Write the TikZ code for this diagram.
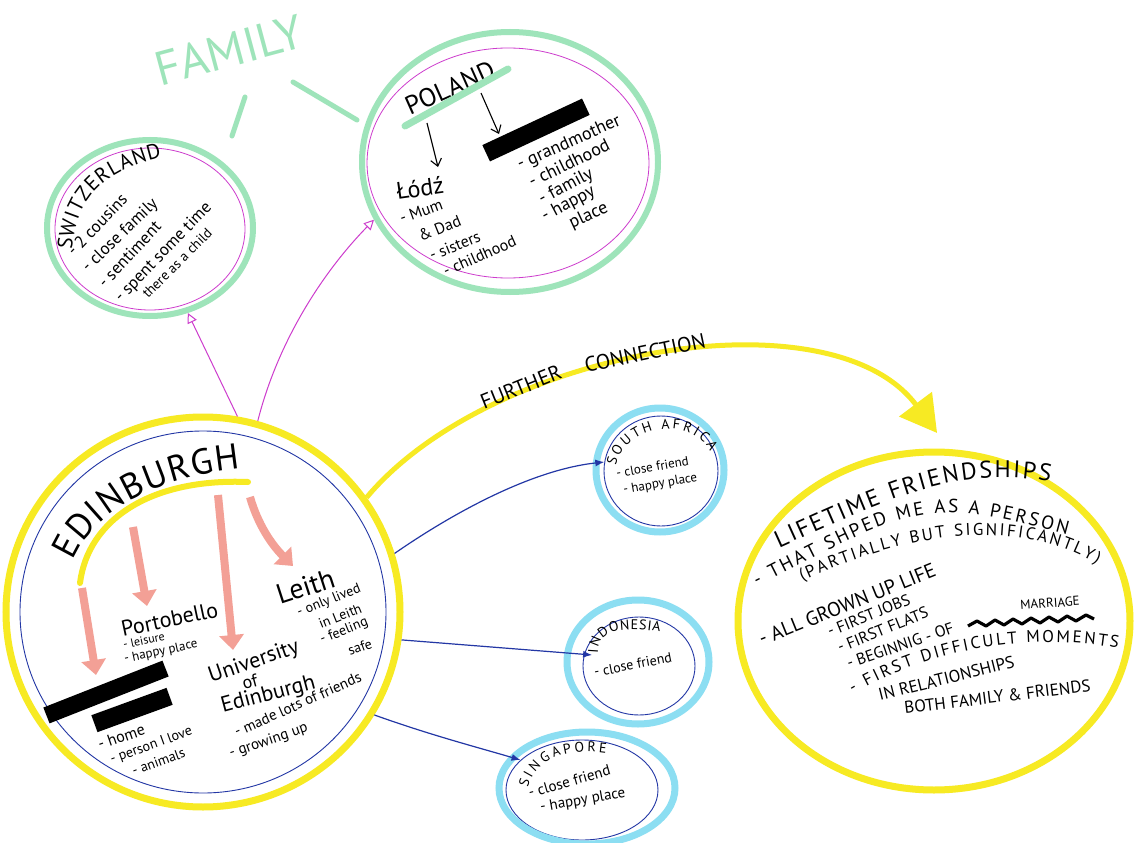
\documentclass[tikz,border=0pt]{standalone}
\usepackage{fontspec}
\setmainfont{PT Sans}
\usetikzlibrary{arrows.meta,shapes.geometric,decorations.text}
\definecolor{mint}{RGB}{158,228,186}
\definecolor{mag}{RGB}{205,60,205}
\definecolor{yel}{RGB}{247,234,35}
\definecolor{navy}{RGB}{35,55,165}
\definecolor{skyc}{RGB}{140,222,242}
\definecolor{salm}{RGB}{243,160,150}
\newcommand{\fs}[1]{\fontsize{#1}{#1}\selectfont}
\begin{document}
\begin{tikzpicture}[x=1pt,y=-1pt,
  ring/.style={ellipse, inner sep=0pt},
  greenring/.style={draw=mint, line width=6pt},
  purplering/.style={draw=mag, line width=0.8pt},
  yellowring/.style={draw=yel, line width=7pt},
  bluering/.style={draw=navy, line width=0.9pt},
  cyanring/.style={draw=skyc, line width=7pt},
  hw/.style={inner sep=0pt, anchor=base west},
  curvetext/.style={decorate, decoration={text along path, text align={fit to path}, text={#1}}},
  pinkarrow/.style={draw=salm, line width=8pt, -{Triangle[length=15pt,width=24pt]}},
  purplearrow/.style={draw=mag, line width=1pt, -{Triangle[open,length=10pt,width=10pt]}},
  bluearrow/.style={draw=navy, line width=1.2pt, -{Latex[length=9pt,width=7pt]}},
  blackarrow/.style={draw=black, line width=1.1pt, -{Straight Barb[length=7pt,width=11pt]}},
  redact/.style={fill=black, inner sep=0pt}
]
\useasboundingbox (0,0) rectangle (1136,843);
\fill[white] (0,0) rectangle (1136,843);

% ---------------- FAMILY ----------------
\node[font=\fs{48}, text=mint, rotate=15] (family) at (229,50) {FAMILY};
\coordinate (fa1) at (245,97); \coordinate (fa2) at (232,136);
\coordinate (fb1) at (293,82); \coordinate (fb2) at (357,120);
\draw[mint, line width=5pt, line cap=round] (fa1) -- (fa2);
\draw[mint, line width=5pt, line cap=round] (fb1) -- (fb2);

% ---------------- Switzerland ----------------
\node[ring, greenring, minimum width=206pt, minimum height=176pt] (swiss) at (150,228) {};
\draw[purplering] (150,229) ellipse [x radius=95, y radius=81];
\path[curvetext={|\fs{21}|SWITZERLAND}] (72,250) .. controls (76,200) and (100,172) .. (162,157);
\node[hw, rotate=46, font=\fs{17}] (sw1) at (74,257) {- 2 cousins};
\node[hw, rotate=44, font=\fs{17}] (sw2) at (88,273) {- close family};
\node[hw, rotate=47, font=\fs{17}] (sw3) at (105,289) {- sentiment};
\node[hw, rotate=46, font=\fs{17}] (sw4) at (121,303) {- spent some time};
\node[hw, rotate=45, font=\fs{14}] (sw5) at (148,299) {there as a child};

% ---------------- Poland ----------------
\node[ring, greenring, minimum width=296pt, minimum height=260pt] (poland) at (510,162) {};
\draw[purplering] (508,163) ellipse [x radius=141, y radius=115];
\node[font=\fs{26}, rotate=24] (poltitle) at (450,88) {POLAND};
\draw[mint, line width=7pt, line cap=round] (405,126) -- (508,69);
\node[redact, minimum width=110pt, minimum height=18pt, rotate=25] (red3) at (536,130) {};
\node[font=\fs{24}, rotate=8] (lodz) at (420,188) {Łódź};
\coordinate (pa1) at (427,123); \coordinate (pb1) at (438,167);
\coordinate (pa2) at (481,93);  \coordinate (pb2) at (499,134);
\draw[blackarrow] (pa1) -- (pb1);
\draw[blackarrow] (pa2) -- (pb2);
\node[hw, rotate=20, font=\fs{16}] (pl1) at (402,224) {- Mum};
\node[hw, rotate=22, font=\fs{16}] (pl2) at (421,242) {\& Dad};
\node[hw, rotate=22, font=\fs{16}] (pl3) at (432,261) {- sisters};
\node[hw, rotate=24, font=\fs{16}] (pl4) at (446,277) {- childhood};
\node[hw, rotate=24, font=\fs{18}] (pr1) at (520,170) {- grandmother};
\node[hw, rotate=26, font=\fs{18}] (pr2) at (532,188) {- childhood};
\node[hw, rotate=28, font=\fs{18}] (pr3) at (542,205) {- family};
\node[hw, rotate=28, font=\fs{18}] (pr4) at (545,222) {- happy};
\node[hw, rotate=25, font=\fs{18}] (pr5) at (572,229) {place};

% ---------------- Edinburgh ----------------
\node[ring, yellowring, minimum width=394pt, minimum height=390pt] (edi) at (203,612) {};
\draw[bluering] (203,612) ellipse [x radius=183, y radius=181];
\path[curvetext={|\fs{36}|EDINBURGH}] (73,561) .. controls (92,515) and (150,478) .. (240,469);
\draw[yel, line width=6pt, line cap=round] (80,583) .. controls (88,520) and (150,478) .. (248,482);

\coordinate (pk1s) at (82,588);  \coordinate (pk1e) at (96,675);
\coordinate (pk2s) at (133,527); \coordinate (pk2e) at (147,606);
\coordinate (pk3s) at (218,495); \coordinate (pk3e) at (233,650);
\coordinate (pk4s) at (250,497); \coordinate (pk4e) at (293,566);
\draw[pinkarrow] (pk1s) -- (pk1e);
\draw[pinkarrow] (pk2s) -- (pk2e);
\draw[pinkarrow] (pk3s) -- (pk3e);
\draw[pinkarrow] (pk4s) .. controls (258,525) and (272,545) .. (pk4e);

\node[redact, minimum width=128pt, minimum height=17pt, rotate=21.5] (red1) at (106,692) {};
\node[redact, minimum width=80pt, minimum height=18pt, rotate=20] (red2) at (132,710) {};

\node[hw, rotate=12, font=\fs{22}] (porto) at (123,637) {Portobello};
\node[hw, rotate=12, font=\fs{12}] (pt1) at (124,649) {- leisure};
\node[hw, rotate=12, font=\fs{13}] (pt2) at (125,663) {- happy place};

\node[hw, rotate=18, font=\fs{28}] (leith) at (280,605) {Leith};
\node[hw, rotate=22, font=\fs{14}] (le1) at (299,617) {- only lived};
\node[hw, rotate=22, font=\fs{14}] (le2) at (321,629) {in Leith};
\node[hw, rotate=22, font=\fs{14}] (le3) at (322,644) {- feeling};
\node[hw, rotate=20, font=\fs{14}] (le4) at (350,656) {safe};

\node[hw, rotate=19, font=\fs{22}] (uni1) at (211,683) {University};
\node[hw, rotate=15, font=\fs{18}] (uni2) at (244,690) {of};
\node[hw, rotate=15, font=\fs{22}] (uni3) at (223,713) {Edinburgh};
\node[hw, rotate=24, font=\fs{15}] (uni4) at (237,737) {- made lots of friends};
\node[hw, rotate=19, font=\fs{15}] (uni5) at (231,758) {- growing up};

\node[hw, rotate=19, font=\fs{16}] (rd1) at (100,750) {- home};
\node[hw, rotate=20, font=\fs{14}] (rd2) at (112,764) {- person I love};
\node[hw, rotate=20, font=\fs{14}] (rd3) at (134,776) {- animals};

% ---------------- South Africa / Indonesia / Singapore ----------------
\node[ring, bluering, minimum width=114pt, minimum height=110pt] (sa) at (661,471) {};
\draw[cyanring] (660,470) ellipse [x radius=64, y radius=62];
\path[curvetext={|\fs{14}|SOUTH AFRICA}] (616,466) .. controls (622,428) and (690,412) .. (710,452);
\node[hw, rotate=10, font=\fs{13}] (sa1) at (617,478) {- close friend};
\node[hw, rotate=10, font=\fs{13}] (sa2) at (624,494) {- happy place};

\node[ring, bluering, minimum width=112pt, minimum height=98pt] (indo) at (639,666) {};
\draw[cyanring] (638,662) ellipse [x radius=71, y radius=62];
\path[curvetext={|\fs{14}|INDONESIA}] (598,653) .. controls (598,630) and (621,626) .. (660,632);
\node[hw, rotate=11, font=\fs{14}] (in1) at (595,677) {- close friend};

\node[ring, bluering, minimum width=152pt, minimum height=100pt] (sing) at (582,790) {};
\draw[cyanring] (587,788) ellipse [x radius=88, y radius=56];
\path[curvetext={|\fs{14}|SINGAPORE}] (528,788) .. controls (534,760) and (565,747) .. (606,753);
\node[hw, rotate=16, font=\fs{15}] (sg1) at (530,798) {- close friend};
\node[hw, rotate=10, font=\fs{15}] (sg2) at (541,812) {- happy place};

% ---------------- Lifetime friendships ----------------
\node[ring, yellowring, minimum width=392pt, minimum height=338pt] (friend) at (934,621) {};
\path[curvetext={|\fs{24}|LIFETIME FRIENDSHIPS}] (779,548) .. controls (898,494) and (961,466) .. (1050,482);
\path[curvetext={|\fs{19}|- THAT SHPED ME AS A PERSON}] (757,586) .. controls (917,505) and (922,496) .. (1067,535);
\path[curvetext={|\fs{17}|(PARTIALLY BUT SIGNIFICANTLY)}] (802,581) .. controls (919,528) and (1019,519) .. (1097,564);
\node[hw, rotate=22, font=\fs{20}] (fr1) at (762,646) {- ALL GROWN UP LIFE};
\node[hw, rotate=22, font=\fs{16}] (fr2) at (830,637) {- FIRST JOBS};
\node[hw, rotate=22, font=\fs{16}] (fr3) at (840,653) {- FIRST FLATS};
\node[hw, rotate=19, font=\fs{16}] (fr4) at (849,669) {- BEGINNIG - OF};
\node[font=\fs{13}, rotate=4, inner sep=0pt] (marr) at (1050,603) {MARRIAGE};
\draw[line width=3.2pt, line join=round] (968,626) -- (977,621) -- (986,626) -- (995,620) -- (1004,625) -- (1013,619) -- (1022,624) -- (1031,618) -- (1040,623) -- (1049,617) -- (1058,622) -- (1067,616) -- (1076,621) -- (1086,615) -- (1094,619);
\path[curvetext={|\fs{17}|- FIRST DIFFICULT MOMENTS}] (853,694) .. controls (903,664) and (1000,628) .. (1118,648);
\node[hw, rotate=14, font=\fs{17}] (fr6) at (880,701) {IN RELATIONSHIPS};
\node[hw, rotate=7, font=\fs{17}] (fr7) at (905,714) {BOTH FAMILY \& FRIENDS};

% ---------------- Connectors ----------------
\draw[purplearrow] (edi.80) -- (swiss.-66);
\draw[purplearrow] (edi.74) .. controls (278,341) and (323,272) .. (poland.203);
\draw[bluearrow] (edi.17) .. controls (450,515) and (530,470) .. (sa.171);
\draw[bluearrow, shorten >=-8pt] (edi.-8) -- (indo.168);
\draw[bluearrow] (edi.-31) .. controls (430,735) and (480,748) .. (sing.154);
\draw[yel, line width=5pt, shorten >=20pt, -{Triangle[length=36pt,width=40pt]}] (edi.35) .. controls (490,350) and (830,290) .. (friend.85);
\node[font=\fs{21}, rotate=22] (lab1) at (521,387) {FURTHER};
\node[font=\fs{21}, rotate=12] (lab2) at (645,353) {CONNECTION};
\end{tikzpicture}
\end{document}
